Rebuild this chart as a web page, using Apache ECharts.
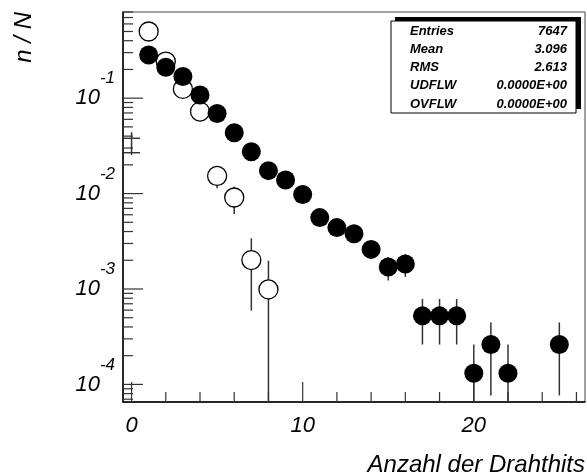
<!DOCTYPE html>
<html>
<head>
<meta charset="utf-8">
<script src="https://cdn.jsdelivr.net/npm/echarts@6/dist/echarts.min.js"></script>
<style>
  html, body { margin: 0; padding: 0; background: #fff; }
  #chart { width: 587px; height: 476px; }
</style>
</head>
<body>
<div id="chart"></div>
<script>
// n/N per bin (bin = number of wire hits)
var bins = [0, 1, 2, 3, 4, 5, 6, 7, 8, 9, 10, 11, 12, 13, 14, 15, 16, 17, 18, 19, 20, 21, 22, 23, 24, 25];
var filledN = [0.0268, 0.284, 0.211, 0.169, 0.108, 0.069, 0.0435, 0.0275, 0.0174, 0.0139, 0.0098, 0.0056,
  0.0044, 0.0038, 0.0026, 0.0017, 0.00183, 0.000523, 0.000523, 0.000523, 0.000131, 0.000262, 0.000131,
  null, null, 0.000262];
// error bar ends (null = hidden behind the marker)
var filledLo = [0.0254, null, null, null, null, null, null, null, null, null, null, null, null, null, null,
  0.00123, 0.00134, 0.000262, 0.000262, 0.000262, 0, 0.0000766, 0, null, null, 0.0000766];
var filledHi = [0.031, null, null, null, null, null, null, null, null, null, null, null, null, null, null,
  0.00217, 0.00232, 0.000785, 0.000785, 0.000785, 0.000262, 0.000446, 0.000262, null, null, 0.000446];

var openN = [0.038, 0.50, 0.242, 0.125, 0.0723, 0.0153, 0.0091, 0.00201, 0.00099];
var openLo = [0.030, null, null, null, null, 0.0114, 0.0061, 0.000594, 0];
var openHi = [0.044, null, null, null, null, 0.0195, 0.0118, 0.0034, 0.00198];

var xMin = -0.5, xMax = 26.5;
var yMin = 6.54e-5, yMax = 0.8;
var xLabels = [0, 10, 20];
var xMajorTicks = [0, 10, 20];
var xMinorTicks = [2, 4, 6, 8, 12, 14, 16, 18, 22, 24, 26];
var yDecades = [-5, -4, -3, -2, -1];

var statNames = ['Entries', 'Mean', 'RMS', 'UDFLW', 'OVFLW'];
var statValues = ['7647', '3.096', '2.613', '0.0000E+00', '0.0000E+00'];

var FONT = 'Liberation Sans, Arial, Helvetica, sans-serif';

// tick lists for the log axis
var yTicks = [];
yDecades.forEach(function (d) {
  for (var m = 1; m <= 9; m++) {
    var v = m * Math.pow(10, d);
    if (v >= yMin * 0.999 && v <= yMax * 1.001) yTicks.push([xMin, v, m === 1 ? 20 : 10]);
  }
});
var xTicks = xMajorTicks.map(function (v) { return [v, yMin, 20]; })
  .concat(xMinorTicks.map(function (v) { return [v, yMin, 10]; }));

function points(vals) {
  var out = [];
  vals.forEach(function (v, i) { if (v != null) out.push([bins[i], v]); });
  return out;
}
function markerPoints(vals) {
  // bin 0 has no marker drawn
  return points(vals).filter(function (p) { return p[0] > 0; });
}

function errorRenderer(vals, lo, hi) {
  var idx = [];
  vals.forEach(function (v, i) { if (v != null) idx.push(i); });
  return function (params, api) {
    var i = idx[params.dataIndex];
    var x = bins[i], y = vals[i];
    var children = [];
    var a = api.coord([x - 0.5, y]), b = api.coord([x + 0.5, y]);
    children.push({ type: 'line', shape: { x1: a[0], y1: a[1], x2: b[0], y2: b[1] },
      style: { stroke: '#222', lineWidth: 1.3 } });
    if (lo[i] != null && hi[i] != null) {
      var p1 = api.coord([x, Math.max(lo[i], yMin)]), p2 = api.coord([x, hi[i]]);
      children.push({ type: 'line', shape: { x1: p1[0], y1: p1[1], x2: p2[0], y2: p2[1] },
        style: { stroke: '#333', lineWidth: 1.5 } });
    }
    return { type: 'group', children: children };
  };
}

var chart = echarts.init(document.getElementById('chart'));

var statChildren = [
  { type: 'rect', shape: { x: 395, y: 17, width: 186, height: 92 }, style: { fill: '#000' } },
  { type: 'rect', shape: { x: 391, y: 21, width: 185, height: 92 }, style: { fill: '#fff', stroke: '#000', lineWidth: 1 } }
];
statNames.forEach(function (n, i) {
  var yy = 31 + i * 18.3;
  statChildren.push({ type: 'text', x: 410, y: yy, style: { text: n, font: 'italic bold 13px ' + FONT,
    fill: '#000', align: 'left', verticalAlign: 'middle' } });
  statChildren.push({ type: 'text', x: 567, y: yy, style: { text: statValues[i], font: 'italic bold 13px ' + FONT,
    fill: '#000', align: 'right', verticalAlign: 'middle' } });
});

var option = {
  backgroundColor: '#fff',
  animation: false,
  grid: { left: 123, right: 2, top: 12, bottom: 74, show: true, borderColor: '#444', borderWidth: 1 },
  xAxis: {
    type: 'value', min: xMin, max: xMax,
    axisLine: { show: true, onZero: false, lineStyle: { color: '#000', width: 1.5 } },
    axisTick: { show: false },
    splitLine: { show: false },
    axisLabel: {
      customValues: xLabels, margin: 13, color: '#000',
      fontSize: 22, fontStyle: 'italic', fontFamily: FONT
    }
  },
  yAxis: {
    type: 'log', logBase: 10, min: yMin, max: yMax,
    axisLine: { show: true, onZero: false, lineStyle: { color: '#000', width: 1.5 } },
    axisTick: { show: false },
    splitLine: { show: false },
    axisLabel: {
      margin: 8, color: '#000',
      formatter: function (v) {
        var l = Math.log10(v), r = Math.round(l);
        if (Math.abs(l - r) > 1e-6) return '';
        return '{b|10}{s|' + r + '}';
      },
      rich: {
        b: { fontSize: 22, fontStyle: 'italic', fontFamily: FONT, color: '#000', lineHeight: 56, verticalAlign: 'middle' },
        s: { fontSize: 17, fontStyle: 'italic', fontFamily: FONT, color: '#000', lineHeight: 17, verticalAlign: 'top' }
      }
    }
  },
  graphic: [
    { type: 'text', x: 24, y: 12, rotation: Math.PI / 2,
      style: { text: 'n / N', font: 'italic 24px ' + FONT, fill: '#000', align: 'right', verticalAlign: 'middle' } },
    { type: 'text', x: 585, y: 465,
      style: { text: 'Anzahl der Drahthits', font: 'italic 24px ' + FONT, fill: '#000', align: 'right', verticalAlign: 'middle' } },
    { type: 'group', children: statChildren }
  ],
  series: [
    {
      type: 'custom', name: 'yTicks', data: yTicks, clip: false, silent: true, z: 1,
      renderItem: function (params, api) {
        var p = api.coord([api.value(0), api.value(1)]);
        var len = yTicks[params.dataIndex][2];
        return { type: 'line', shape: { x1: p[0], y1: p[1], x2: p[0] + len, y2: p[1] },
          style: { stroke: '#333', lineWidth: 1.2 } };
      }
    },
    {
      type: 'custom', name: 'xTicks', data: xTicks, clip: false, silent: true, z: 1,
      renderItem: function (params, api) {
        var p = api.coord([api.value(0), api.value(1)]);
        var len = xTicks[params.dataIndex][2];
        return { type: 'line', shape: { x1: p[0], y1: p[1], x2: p[0], y2: p[1] - len },
          style: { stroke: '#333', lineWidth: 1.2 } };
      }
    },
    {
      type: 'custom', name: 'openErr', data: points(openN), clip: true, z: 2,
      renderItem: errorRenderer(openN, openLo, openHi)
    },
    {
      type: 'custom', name: 'filledErr', data: points(filledN), clip: true, z: 2,
      renderItem: errorRenderer(filledN, filledLo, filledHi)
    },
    {
      type: 'scatter', name: 'open', data: markerPoints(openN), symbol: 'circle', symbolSize: 19, z: 3,
      itemStyle: { color: '#fff', borderColor: '#000', borderWidth: 1.3, opacity: 1 }
    },
    {
      type: 'scatter', name: 'filled', data: markerPoints(filledN), symbol: 'circle', symbolSize: 19, z: 4,
      itemStyle: { color: '#000', opacity: 1 }
    }
  ]
};
chart.setOption(option);
</script>
</body>
</html>
